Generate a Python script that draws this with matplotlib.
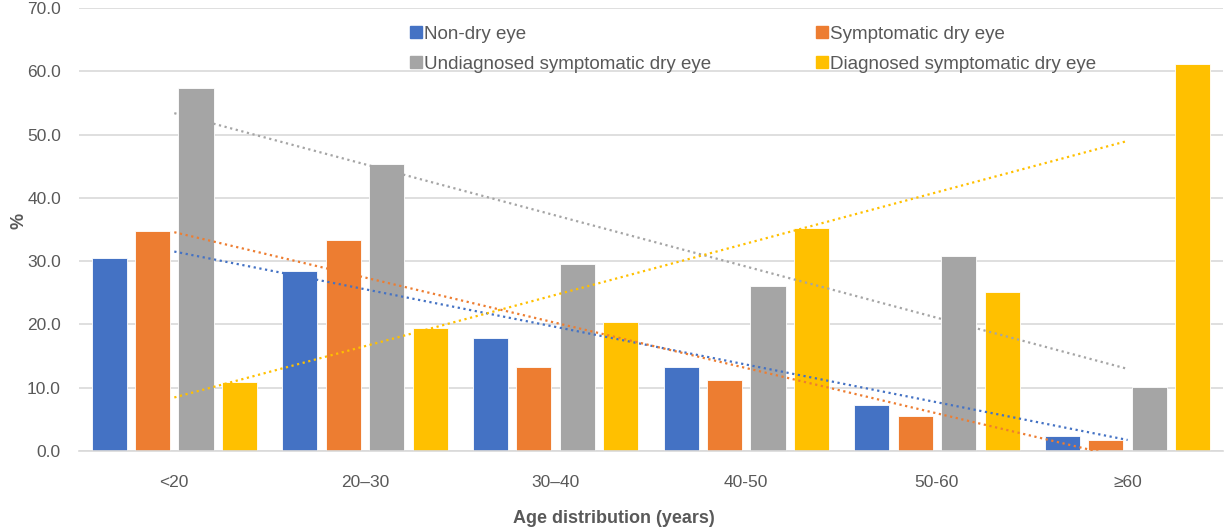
import numpy as np
import matplotlib
matplotlib.use("Agg")
import matplotlib.pyplot as plt
from matplotlib.lines import Line2D

plt.rcParams['font.family'] = ['Liberation Sans', 'DejaVu Sans']

# data
age_groups = ['<20', '20\u201330', '30\u201340', '40-50', '50-60', '\u226560']
non_dry = [30.5, 28.4, 17.9, 13.3, 7.3, 2.4]
symptomatic = [34.8, 33.4, 13.3, 11.2, 5.6, 1.8]
undiagnosed = [57.3, 45.3, 29.5, 26.1, 30.8, 10.1]
diagnosed = [10.9, 19.4, 20.4, 35.3, 25.2, 61.2]

series_names = ['Non-dry eye', 'Symptomatic dry eye',
                'Undiagnosed symptomatic dry eye', 'Diagnosed symptomatic dry eye']
colors = ['#4472C4', '#ED7D31', '#A5A5A5', '#FFC000']
text_col = '#595959'
grid_col = '#D9D9D9'

fig = plt.figure(figsize=(12.28, 5.29), dpi=100)
ax = fig.add_axes([0.0643, 0.1474, 0.9316, 0.8374])

x = np.arange(len(age_groups))
pitch = 0.228
width = 0.184
all_series = [non_dry, symptomatic, undiagnosed, diagnosed]

for i, (vals, col) in enumerate(zip(all_series, colors)):
    ax.bar(x + (i - 1.5) * pitch, vals, width, color=col, zorder=2,
           edgecolor='white', linewidth=0.6)

# linear trendlines (least squares on the category index)
for vals, col in zip(all_series, colors):
    k, b = np.polyfit(x + 1, vals, 1)
    ax.plot(x, k * (x + 1) + b, color=col, lw=1.6,
            linestyle=(0, (1, 1.6)), zorder=3)

ax.set_xlim(-0.5, 5.5)
ax.set_ylim(0, 70)
ax.set_yticks(np.arange(0, 71, 10))
ax.set_yticklabels([f'{v:.1f}' for v in np.arange(0, 71, 10)])
ax.set_xticks(x)
ax.set_xticklabels(age_groups)
ax.tick_params(axis='both', length=0, labelsize=12.5, colors=text_col)
ax.tick_params(axis='x', pad=17)
ax.tick_params(axis='y', pad=13)
ax.yaxis.grid(True, color=grid_col, lw=1.2, zorder=0)
ax.set_axisbelow(True)
for s in ['top', 'right', 'left']:
    ax.spines[s].set_visible(False)
ax.spines['bottom'].set_color(grid_col)
ax.spines['bottom'].set_linewidth(1.2)

ax.set_ylabel('%', fontsize=13, fontweight='bold', color=text_col)
ax.yaxis.set_label_coords(-0.045, 0.52)
ax.set_xlabel('Age distribution (years)', fontsize=13, fontweight='bold', color=text_col)
ax.xaxis.set_label_coords(0.468, -0.133)

# legend filled row by row like the reference (matplotlib fills by column)
order = [0, 2, 1, 3]
handles = [Line2D([], [], marker='s', linestyle='none', markersize=9,
                  markerfacecolor=colors[j], markeredgecolor=colors[j]) for j in order]
leg = ax.legend(handles, [series_names[j] for j in order], ncol=2, loc='upper left',
                bbox_to_anchor=(0.278, 0.99), frameon=False, fontsize=13.5,
                handlelength=0.6, handletextpad=0.15, columnspacing=5.6,
                labelspacing=0.7, borderaxespad=0.3)
for t in leg.get_texts():
    t.set_color(text_col)

fig.savefig('out.png', dpi=100)
